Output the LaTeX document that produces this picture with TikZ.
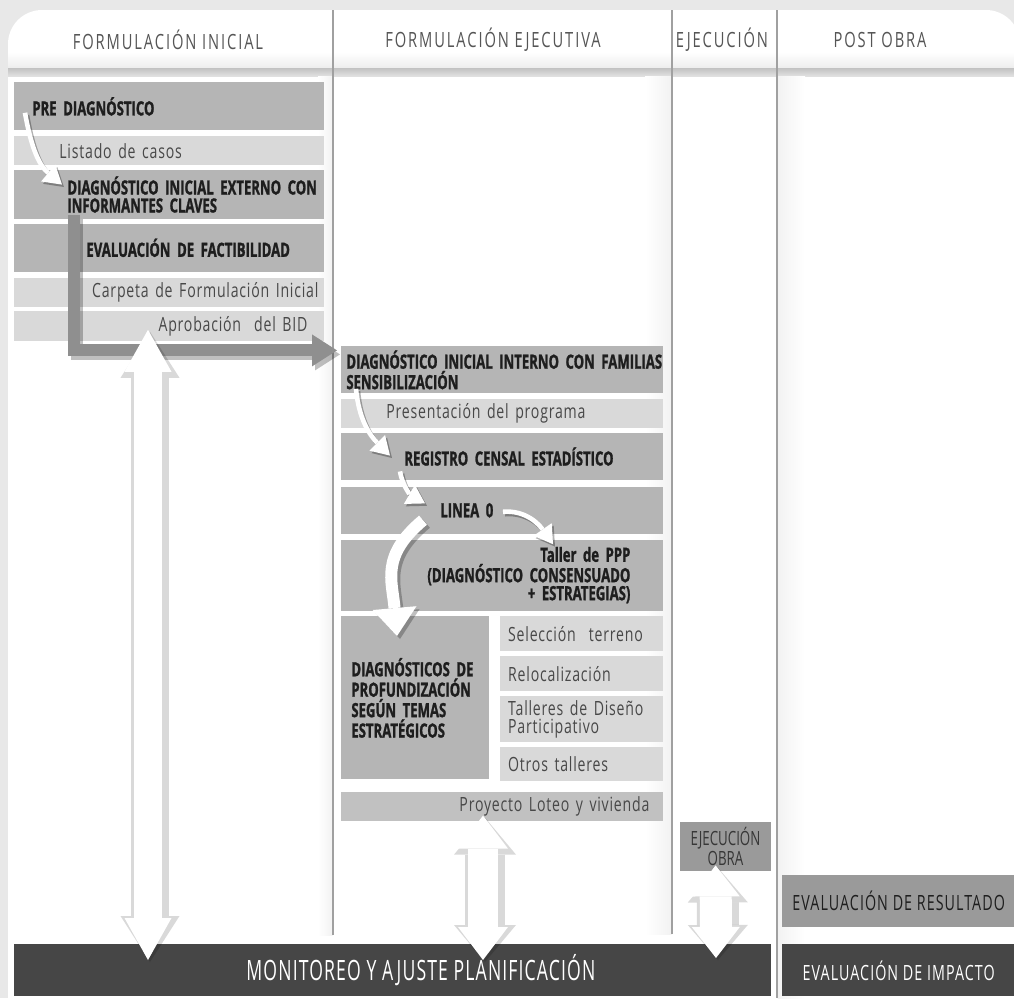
\documentclass[tikz,border=0pt]{standalone}
\usepackage{fontspec}
\setmainfont{Open Sans}
\newfontfamily\hdfont[FakeStretch=0.7,LetterSpace=9]{Open Sans}
\newfontfamily\boxfont[FakeStretch=0.72,LetterSpace=4]{Open Sans}
\newfontfamily\boldboxfont[FakeStretch=0.67,WordSpace=0.6,FakeBold=1.2]{Open Sans}
\newfontfamily\obrafont[FakeStretch=0.68]{Open Sans}
\newfontfamily\evalfont[FakeStretch=0.68,LetterSpace=5]{Open Sans}
\newfontfamily\barfont[FakeStretch=0.63,LetterSpace=4]{Open Sans}
\usepackage{tikz}
\usetikzlibrary{positioning, arrows.meta}

\definecolor{frame}{RGB}{232,232,232}
\definecolor{boxdark}{RGB}{181,181,181}
\definecolor{boxlight}{RGB}{217,217,217}
\definecolor{boxmid}{RGB}{193,193,193}
\definecolor{boxstrong}{RGB}{154,154,154}
\definecolor{barcolor}{RGB}{70,70,70}
\definecolor{turncolor}{RGB}{143,143,143}
\definecolor{inkdark}{RGB}{30,30,30}
\definecolor{inklight}{RGB}{72,72,72}
\definecolor{inkhead}{RGB}{85,85,85}
\definecolor{inkbox}{RGB}{55,55,55}
\definecolor{divider}{RGB}{160,160,160}

\tikzstyle{headtext} = [font=\hdfont\fontsize{10.5}{12}\selectfont, text=inkhead]
\tikzstyle{darkbox} = [rectangle, fill=boxdark, inner sep=0pt, minimum height=24pt, align=left, text=inkdark, font=\boldboxfont\bfseries\fontsize{9.8}{9}\selectfont]
\tikzstyle{lightbox} = [rectangle, fill=boxlight, inner sep=0pt, minimum height=14.5pt, align=left, text=inklight, font=\boxfont\fontsize{9.8}{9}\selectfont]
\tikzstyle{midbox} = [lightbox, fill=boxmid]
\tikzstyle{strongbox} = [rectangle, fill=boxstrong, inner sep=0pt, align=center, text=inkbox, font=\obrafont\fontsize{9.8}{8.5}\selectfont]
\tikzstyle{darkbar} = [rectangle, fill=barcolor, inner sep=0pt, minimum height=26pt, text=white]
\tikzstyle{colline} = [draw=divider, line width=0.8pt]
\tikzstyle{bigturn} = [draw=turncolor, line width=6pt, shorten >=2pt, arrows={-Triangle[length=12.5pt,width=16pt,line width=0pt]}]
\tikzstyle{turnshade} = [bigturn, draw=black, opacity=0.25, transform canvas={shift={(1.5pt,-2pt)}}]
\tikzstyle{curvearrow} = [draw=white, line width=2.3pt, arrows={-Triangle[length=9pt,width=11pt,line width=0pt]}]
\tikzstyle{curveshade} = [curvearrow, draw=black, opacity=0.3, transform canvas={shift={(1pt,-1.2pt)}}]
\tikzstyle{bigcurve} = [draw=white, line width=6pt, arrows={-Triangle[length=14pt,width=22pt,line width=0pt]}]
\tikzstyle{bigcurveshade} = [bigcurve, draw=black, opacity=0.25, transform canvas={shift={(1.5pt,-1.5pt)}}]
\tikzset{
  lskip/.style={execute at begin node={\leftskip=#1\relax}},
  rskip/.style={execute at begin node={\rightskip=#1\relax}},
  twoway/.style n args={3}{draw=white, line width=#1, arrows={Triangle[length=#2,width=#3,line width=0pt]-Triangle[length=#2,width=#3,line width=0pt]}},
  twowayshade/.style n args={3}{twoway={#1}{#2}{#3}, draw=black, opacity=0.15, transform canvas={shift={(1pt,-1pt)}}}
}

\begin{document}
\begin{tikzpicture}[x=0.5pt, y=0.5pt, node distance=2pt]
\useasboundingbox (0,0) rectangle (1014,-998);

% sheet and header band
\fill[frame] (0,0) rectangle (1014,-998);
\fill[white, rounded corners=17pt] (8,-1040) rectangle (1020,-10);
\shade[top color=white, bottom color=black!7] (8,-52) rectangle (1014,-68);
\shade[top color=black!24, bottom color=black!12] (8,-68) rectangle (1014,-76);
\shade[left color=white, right color=black!5] (318,-76) rectangle (332.5,-935);
\shade[left color=white, right color=black!5] (645,-76) rectangle (671.5,-934);
\shade[left color=black!5, right color=white] (777.5,-76) rectangle (805,-998);
\draw[colline] (333,-10) -- (333,-935);
\draw[colline] (672,-10) -- (672,-934);
\draw[colline] (777,-10) -- (777,-998);

\node (hdinicial) [headtext] at (168,-40) {FORMULACIÓN INICIAL};
\node (hdejecutiva) [headtext] at (493,-40) {FORMULACIÓN EJECUTIVA};
\node (hdejecucion) [headtext] at (722,-40) {EJECUCIÓN};
\node (hdpost) [headtext] at (880,-40) {POST OBRA};

% formulacion inicial
\node (prediag) [darkbox, text width=155pt, lskip=9pt, anchor=north west] at (14,-82) {PRE DIAGNÓSTICO};
\node (listado) [lightbox, text width=155pt, lskip=22.5pt, below=2.5pt of prediag] {Listado de casos};
\node (extclave) [darkbox, text width=155pt, minimum height=24.5pt, lskip=26.5pt, below=2pt of listado] {DIAGNÓSTICO INICIAL EXTERNO CON\\INFORMANTES CLAVES};
\node (evalfact) [darkbox, text width=155pt, lskip=36pt, below=2pt of extclave] {EVALUACIÓN DE FACTIBILIDAD};
\node (carpeta) [lightbox, text width=155pt, align=right, rskip=3pt, below=2.5pt of evalfact] {Carpeta de Formulación Inicial};
\node (aprob) [lightbox, text width=155pt, minimum height=15pt, align=right, rskip=8.5pt, below=2pt of carpeta] {Aprobación~~del BID};

% formulacion ejecutiva
\node (intfam) [darkbox, text width=161pt, minimum height=23.5pt, lskip=2.5pt, anchor=north west] at (341,-346) {DIAGNÓSTICO INICIAL INTERNO CON FAMILIAS\\SENSIBILIZACIÓN};
\node (presenta) [lightbox, text width=161pt, lskip=22.5pt, below=2.5pt of intfam] {Presentación del programa};
\node (regcen) [darkbox, text width=161pt, minimum height=23.5pt, lskip=31.5pt, below=2pt of presenta] {REGISTRO CENSAL ESTADÍSTICO};
\node (linea0) [darkbox, text width=161pt, minimum height=23.5pt, lskip=49.5pt, below=3pt of regcen] {LINEA 0};
\node (taller) [darkbox, text width=161pt, minimum height=35.5pt, align=right, rskip=16.5pt, below=2.5pt of linea0] {Taller de PPP\\(DIAGNÓSTICO CONSENSUADO\\+ ESTRATEGIAS)};
\node (profund) [darkbox, text width=74pt, minimum height=81.5pt, lskip=5pt, below=2.5pt of taller.south west, anchor=north west] {DIAGNÓSTICOS DE\\PROFUNDIZACIÓN\\SEGÚN TEMAS\\ESTRATÉGICOS};
\node (seleccion) [lightbox, text width=81.5pt, minimum height=17.5pt, lskip=4pt, right=5pt of profund.north east, anchor=north west] {Selección~~terreno};
\node (reloc) [lightbox, text width=81.5pt, minimum height=17.5pt, lskip=4pt, below=2pt of seleccion] {Relocalización};
\node (tallerdis) [lightbox, text width=81.5pt, minimum height=23pt, lskip=4pt, below=2pt of reloc] {Talleres de Diseño\\Participativo};
\node (otros) [lightbox, text width=81.5pt, minimum height=17pt, lskip=4pt, below=2pt of tallerdis] {Otros talleres};
\node (proyecto) [midbox, text width=161pt, align=right, rskip=7pt, below=6pt of profund.south west, anchor=north west] {Proyecto Loteo y vivienda};

% ejecucion and post obra
\node (ejobra) [strongbox, minimum width=45.5pt, minimum height=24.5pt] at (725.5,-846.5) {EJECUCIÓN\\OBRA};
\node (monitoreo) [darkbar, minimum width=378.5pt, font=\barfont\fontsize{14}{16}\selectfont, anchor=north west] at (14,-944) {\hspace*{28pt}MONITOREO Y AJUSTE PLANIFICACIÓN};
\node (impacto) [darkbar, minimum width=116.5pt, font=\evalfont\fontsize{10.5}{12}\selectfont, right=5pt of monitoreo] {EVALUACIÓN DE IMPACTO};
\node (resultado) [darkbar, fill=boxstrong, text=inkdark, minimum width=116.5pt, font=\evalfont\fontsize{10.5}{12}\selectfont, above=8.5pt of impacto] {EVALUACIÓN DE RESULTADO};

% flow arrows
\draw [turnshade] ([xshift=30pt,yshift=2pt]extclave.south west) |- ([yshift=9.75pt]intfam.west);
\draw [bigturn] ([xshift=30pt,yshift=2pt]extclave.south west) |- ([yshift=9.75pt]intfam.west);

\draw [curveshade] ([xshift=5.5pt,yshift=9pt]prediag.south west) to[out=-80,in=140] ([xshift=24pt,yshift=-7.5pt]extclave.north west);
\draw [curvearrow] ([xshift=5.5pt,yshift=9pt]prediag.south west) to[out=-80,in=140] ([xshift=24pt,yshift=-7.5pt]extclave.north west);
\draw [curveshade] ([xshift=7.5pt,yshift=2.5pt]intfam.south west) to[out=-85,in=135] ([xshift=24.5pt,yshift=-11.5pt]regcen.north west);
\draw [curvearrow] ([xshift=7.5pt,yshift=2.5pt]intfam.south west) to[out=-85,in=135] ([xshift=24.5pt,yshift=-11.5pt]regcen.north west);
\draw [curveshade] ([xshift=29.5pt,yshift=4.5pt]regcen.south west) to[out=-80,in=150] ([xshift=42pt,yshift=-8.5pt]linea0.north west);
\draw [curvearrow] ([xshift=29.5pt,yshift=4.5pt]regcen.south west) to[out=-80,in=150] ([xshift=42pt,yshift=-8.5pt]linea0.north west);
\draw [curveshade] ([xshift=81pt,yshift=-0.75pt]linea0.west) to[out=5,in=125] ([xshift=106pt,yshift=-2.5pt]taller.north west);
\draw [curvearrow] ([xshift=81pt,yshift=-0.75pt]linea0.west) to[out=5,in=125] ([xshift=106pt,yshift=-2.5pt]taller.north west);
\draw [bigcurveshade] ([xshift=41pt,yshift=7pt]linea0.south west) to[out=-140,in=95,looseness=1.2] ([xshift=28pt,yshift=-10pt]profund.north west);
\draw [bigcurve] ([xshift=41pt,yshift=7pt]linea0.south west) to[out=-140,in=95,looseness=1.2] ([xshift=28pt,yshift=-10pt]profund.north west);

% monitoring arrows
\draw [twowayshade={19pt}{23pt}{29.5pt}] ([xshift=67pt,yshift=6pt]aprob.south west) -- ([xshift=67pt,yshift=-8pt]monitoreo.north west);
\draw [twoway={14pt}{21pt}{23.5pt}] ([xshift=67pt,yshift=6pt]aprob.south west) -- ([xshift=67pt,yshift=-8pt]monitoreo.north west);
\draw [twowayshade={20pt}{18.5pt}{31pt}] ([xshift=71pt,yshift=3pt]proyecto.south west) -- ([xshift=234.5pt,yshift=-8pt]monitoreo.north west);
\draw [twoway={15pt}{16.5pt}{25pt}] ([xshift=71pt,yshift=3pt]proyecto.south west) -- ([xshift=234.5pt,yshift=-8pt]monitoreo.north west);
\draw [twowayshade={21pt}{17.5pt}{30pt}] ([xshift=18pt,yshift=3pt]ejobra.south west) -- ([xshift=351pt,yshift=-7pt]monitoreo.north west);
\draw [twoway={16pt}{15.5pt}{24pt}] ([xshift=18pt,yshift=3pt]ejobra.south west) -- ([xshift=351pt,yshift=-7pt]monitoreo.north west);
\end{tikzpicture}
\end{document}
